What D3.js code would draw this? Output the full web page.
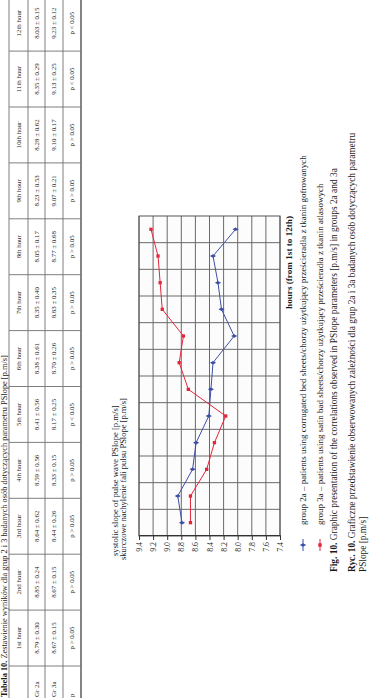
<!DOCTYPE html>
<html>
<head>
<meta charset="utf-8">
<script src="https://cdn.jsdelivr.net/npm/d3@7"></script>
<style>
  body { margin: 0; background: #fff; }
  text { font-family: "Liberation Serif", "DejaVu Serif", serif; fill: #1a1a1a; }
</style>
</head>
<body>
<svg width="372" height="698"></svg>
<script>
const hours = ["1st hour", "2nd hour", "3rd hour", "4th hour", "5th hour", "6th hour",
  "7th hour", "8th hour", "9th hour", "10th hour", "11th hour", "12th hour"];
const gr2a = [8.79, 8.85, 8.64, 8.59, 8.41, 8.38, 8.35, 8.05, 8.23, 8.28, 8.35, 8.03];
const gr2aSd = [0.30, 0.24, 0.62, 0.56, 0.56, 0.61, 0.40, 0.17, 0.53, 0.62, 0.29, 0.15];
const gr3a = [8.67, 8.67, 8.44, 8.33, 8.17, 8.70, 8.83, 8.77, 9.07, 9.10, 9.13, 9.23];
const gr3aSd = [0.15, 0.15, 0.26, 0.15, 0.25, 0.26, 0.35, 0.68, 0.21, 0.17, 0.25, 0.12];
const pValues = ["p > 0.05", "p > 0.05", "p > 0.05", "p > 0.05", "p < 0.05", "p > 0.05",
  "p > 0.05", "p > 0.05", "p > 0.05", "p > 0.05", "p < 0.05", "p < 0.05"];
const rowLabels = ["", "Gr 2a", "Gr 3a", "p"];
const yTicks = [7.4, 7.6, 7.8, 8.0, 8.2, 8.4, 8.6, 8.8, 9.0, 9.2, 9.4];

const blue = "#3d4ea6";
const red = "#e2263c";
const gridCol = "#6a6a6a";

const svg = d3.select("svg");
const height = +svg.attr("height");

// scale a text's font so it spans the given length
function fit(sel, len) {
  const w = sel.node().getComputedTextLength();
  const fs = parseFloat(sel.style("font-size"));
  sel.style("font-size", (fs * len / w) + "px");
  return sel;
}

// the scanned page is turned on its side: draw upright, then rotate
const page = svg.append("g")
  .attr("transform", `translate(0, ${height}) rotate(-90)`);

// ---- table ----
const title = page.append("text")
  .attr("x", 1).attr("y", 6.5)
  .style("font-size", "8.5px")
  .html('<tspan font-weight="bold">Tabela 10.</tspan> Zestawienie wyników dla grup 2 i 3 badanych osób dotyczących parametru PSlope [p.m/s]');
fit(title, 342);

const colX = d3.scaleBand().domain(hours).range([32, 32 + 12 * 55.9]);

const table = page.append("g");
const rowEdges = [9, 28, 45, 63, 81];
rowEdges.forEach((y, i) => {
  table.append("line")
    .attr("x1", -10).attr("x2", 710)
    .attr("y1", y).attr("y2", y)
    .attr("stroke", "#707070")
    .attr("stroke-width", i === rowEdges.length - 1 ? 1.7 : 0.9);
});
hours.forEach(h => {
  table.append("line")
    .attr("x1", colX(h)).attr("x2", colX(h))
    .attr("y1", 9).attr("y2", 81)
    .attr("stroke", "#707070").attr("stroke-width", 0.9);
});

const rowMid = [18.5, 36.5, 54, 72];
const cellRows = [
  hours,
  gr2a.map((v, i) => `${v.toFixed(2)} ± ${gr2aSd[i].toFixed(2)}`),
  gr3a.map((v, i) => `${v.toFixed(2)} ± ${gr3aSd[i].toFixed(2)}`),
  pValues
];
cellRows.forEach((cells, r) => {
  table.selectAll(null).data(cells).join("text")
    .attr("x", (d, i) => colX(hours[i]) + colX.bandwidth() / 2)
    .attr("y", rowMid[r])
    .attr("dy", "0.35em")
    .attr("text-anchor", "middle")
    .style("font-size", "6.9px")
    .text(d => d);
  table.append("text")
    .attr("x", 1).attr("y", rowMid[r]).attr("dy", "0.35em")
    .style("font-size", "6.9px")
    .text(rowLabels[r]);
});

// ---- chart ----
const plot = { left: 162, right: 482, top: 139, bottom: 280 };

const x = d3.scalePoint().domain(hours)
  .range([plot.left, plot.right]).padding(0.5);
const band = d3.scaleBand().domain(hours).range([plot.left, plot.right]);
const y = d3.scaleLinear().domain([7.4, 9.4]).range([plot.bottom, plot.top]);

const chart = page.append("g");

chart.append("rect")
  .attr("x", plot.left).attr("y", plot.top)
  .attr("width", plot.right - plot.left).attr("height", plot.bottom - plot.top)
  .attr("fill", "#fcfcfc");

chart.selectAll(".hgrid").data(yTicks).join("line")
  .attr("x1", plot.left).attr("x2", plot.right)
  .attr("y1", d => y(d)).attr("y2", d => y(d))
  .attr("stroke", gridCol).attr("stroke-width", 1);

chart.selectAll(".vgrid").data(hours.slice(1)).join("line")
  .attr("x1", d => band(d)).attr("x2", d => band(d))
  .attr("y1", plot.top).attr("y2", plot.bottom)
  .attr("stroke", gridCol).attr("stroke-width", 1);

chart.append("rect")
  .attr("x", plot.left).attr("y", plot.top)
  .attr("width", plot.right - plot.left).attr("height", plot.bottom - plot.top)
  .attr("fill", "none").attr("stroke", "#555").attr("stroke-width", 1);

const yAxis = chart.append("g")
  .attr("transform", `translate(${plot.left}, 0)`)
  .call(d3.axisLeft(y).tickValues(yTicks).tickFormat(d3.format(".1f")).tickSize(4).tickPadding(2));
yAxis.select(".domain").attr("stroke", "#333");
yAxis.selectAll(".tick line").attr("stroke", "#333");
yAxis.selectAll("text")
  .style("font-family", "Liberation Serif, serif")
  .style("font-size", "7.8px")
  .attr("fill", "#1a1a1a");

fit(chart.append("text")
  .attr("x", 142).attr("y", 118)
  .style("font-size", "7.6px")
  .text("systolic slope of pulse wave PSlope [p.m/s]"), 151);
fit(chart.append("text")
  .attr("x", 138).attr("y", 126)
  .style("font-size", "7.6px")
  .text("skurczowe nachylenie fali pulsu PSlope [p.m/s]"), 162);

fit(chart.append("text")
  .attr("x", plot.right).attr("y", 292)
  .attr("text-anchor", "end")
  .style("font-size", "8.5px")
  .style("font-weight", "bold")
  .text("hours (from 1st to 12th)"), 93);

const line = d3.line().x((d, i) => x(hours[i])).y(d => y(d));

const series = [
  { values: gr2a, color: blue, symbol: d3.symbolDiamond },
  { values: gr3a, color: red, symbol: d3.symbolSquare }
];
series.forEach(s => {
  chart.append("path")
    .attr("d", line(s.values))
    .attr("fill", "none")
    .attr("stroke", s.color)
    .attr("stroke-width", 1);
  chart.selectAll(null).data(s.values).join("path")
    .attr("transform", (d, i) => `translate(${x(hours[i])}, ${y(d)})`)
    .attr("d", d3.symbol(s.symbol, 11))
    .attr("fill", s.color);
});

// ---- legend ----
const legendItems = [
  { color: blue, symbol: d3.symbolDiamond, y: 303, len: 370,
    text: "group 2a – patients using corrugated bed sheets/chorzy użytkujący prześcieradła z tkanin gofrowanych" },
  { color: red, symbol: d3.symbolSquare, y: 320, len: 342,
    text: "group 3a – patients using satin bad sheets/chorzy użytkujący prześcieradła z tkanin atlasowych" }
];
legendItems.forEach(it => {
  page.append("line")
    .attr("x1", 147).attr("x2", 159)
    .attr("y1", it.y).attr("y2", it.y)
    .attr("stroke", it.color).attr("stroke-width", 1);
  page.append("path")
    .attr("transform", `translate(153, ${it.y})`)
    .attr("d", d3.symbol(it.symbol, 12))
    .attr("fill", it.color);
  fit(page.append("text")
    .attr("x", 173).attr("y", it.y + 2.8)
    .style("font-size", "8px")
    .text(it.text), it.len);
});

// ---- captions ----
fit(page.append("text")
  .attr("x", 126).attr("y", 337)
  .style("font-size", "8.6px")
  .html('<tspan font-weight="bold">Fig. 10.</tspan> Graphic presentation of the correlations observed in PSlope parameters [p.m/s] in groups 2a and 3a'), 404);
const ryc = fit(page.append("text")
  .attr("x", 126).attr("y", 355)
  .style("font-size", "8.6px")
  .html('<tspan font-weight="bold">Ryc. 10.</tspan> Graficzne przedstawienie obserwowanych zależności dla grup 2a i 3a badanych osób dotyczących parametru'), 439);
page.append("text")
  .attr("x", 126).attr("y", 366)
  .style("font-size", ryc.style("font-size"))
  .text("PSlope [p.m/s]");
</script>
</body>
</html>
